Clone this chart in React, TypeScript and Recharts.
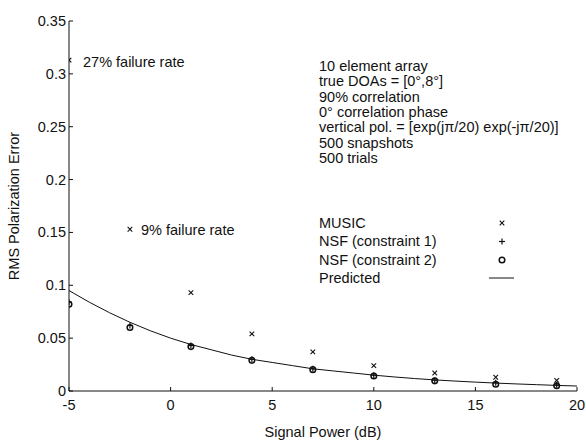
import React from "react";
import { ScatterChart, Scatter, XAxis, YAxis } from "recharts";

const W = 586;
const H = 441;
const FONT = "'Liberation Sans', Arial, Helvetica, sans-serif";

const xTicks = [-5, 0, 5, 10, 15, 20];
const yTicks = [0, 0.05, 0.1, 0.15, 0.2, 0.25, 0.3, 0.35];
const yTickLabels = ["0", "0.05", "0.1", "0.15", "0.2", "0.25", "0.3", "0.35"];

const snr = [-5, -2, 1, 4, 7, 10, 13, 16, 19];
const musicErr = [0.313, 0.153, 0.093, 0.054, 0.037, 0.024, 0.017, 0.013, 0.01];
const nsf1Err = [0.084, 0.062, 0.043, 0.03, 0.021, 0.015, 0.0102, 0.0078, 0.0058];
const nsf2Err = [0.082, 0.06, 0.042, 0.029, 0.0202, 0.0142, 0.0096, 0.0064, 0.005];

const predSnr = [-5, -4, -3, -2, -1, 0, 1, 2, 3, 4, 5, 6, 7, 8, 9, 10, 11, 12, 13, 14, 15, 16, 17, 18, 19, 20];
const predErr = [
  0.095, 0.084, 0.074, 0.065, 0.057, 0.05, 0.044, 0.039, 0.034, 0.03, 0.027, 0.024, 0.021,
  0.019, 0.017, 0.015, 0.0133, 0.0118, 0.0105, 0.0094, 0.0084, 0.0075, 0.0067, 0.006, 0.0053,
  0.0047,
];

const infoLines = [
  "10 element array",
  "true DOAs = [0°,8°]",
  "90% correlation",
  "0° correlation phase",
  "vertical pol. = [exp(jπ/20) exp(-jπ/20)]",
  "500 snapshots",
  "500 trials",
];
const legendNames = ["MUSIC", "NSF (constraint 1)", "NSF (constraint 2)", "Predicted"];

const toPts = (xs: number[], ys: number[]) => xs.map((x, i) => ({ x, y: ys[i] }));
const music = toPts(snr, musicErr);
const nsf1 = toPts(snr, nsf1Err);
const nsf2 = toPts(snr, nsf2Err);
const predicted = toPts(predSnr, predErr);

const Cross = ({ cx, cy, s = 2.3 }: any) => (
  <g stroke="#111" strokeWidth={1.1}>
    <line x1={cx - s} y1={cy - s} x2={cx + s} y2={cy + s} />
    <line x1={cx - s} y1={cy + s} x2={cx + s} y2={cy - s} />
  </g>
);
const Plus = ({ cx, cy, s = 3 }: any) => (
  <g stroke="#111" strokeWidth={1.2}>
    <line x1={cx - s} y1={cy} x2={cx + s} y2={cy} />
    <line x1={cx} y1={cy - s} x2={cx} y2={cy + s} />
  </g>
);
const Ring = ({ cx, cy }: any) => (
  <circle cx={cx} cy={cy} r={2.8} fill="none" stroke="#111" strokeWidth={1.5} />
);

const BottomTick = ({ x, y, payload }: any) => (
  <g>
    <line x1={x} y1={y} x2={x} y2={y - 4} stroke="#111" />
    <text x={x} y={y + 19} textAnchor="middle" fontSize={14.5} fontFamily={FONT} fill="#111">
      {payload.value}
    </text>
  </g>
);
const TopTick = ({ x, y }: any) => <line x1={x} y1={y} x2={x} y2={y + 4} stroke="#111" />;
const LeftTick = ({ x, y, payload, index }: any) => (
  <g>
    <line x1={x} y1={y} x2={x + 4} y2={y} stroke="#111" />
    <text x={x - 3} y={y + 5} textAnchor="end" fontSize={14.5} fontFamily={FONT} fill="#111">
      {yTickLabels[index] ?? payload.value}
    </text>
  </g>
);
const RightTick = ({ x, y }: any) => <line x1={x} y1={y} x2={x - 4} y2={y} stroke="#111" />;

export default function App() {
  const axisLine = { stroke: "#111", strokeWidth: 1 };
  return (
    <div style={{ position: "absolute", left: 0, top: 0, width: W, height: H, background: "#fff" }}>
      <ScatterChart width={W} height={H} margin={{ top: 21, right: 9, bottom: 0, left: 0 }}>
        <XAxis
          xAxisId="b"
          type="number"
          dataKey="x"
          domain={[-5, 20]}
          ticks={xTicks}
          allowDataOverflow
          height={50}
          tickSize={0}
          tickMargin={0}
          tickLine={false}
          axisLine={axisLine}
          tick={<BottomTick />}
        />
        <XAxis
          xAxisId="t"
          orientation="top"
          type="number"
          dataKey="x"
          domain={[-5, 20]}
          ticks={xTicks}
          allowDataOverflow
          height={0}
          tickSize={0}
          tickMargin={0}
          tickLine={false}
          axisLine={axisLine}
          tick={<TopTick />}
        />
        <YAxis
          yAxisId="l"
          type="number"
          dataKey="y"
          domain={[0, 0.35]}
          ticks={yTicks}
          allowDataOverflow
          width={69}
          tickSize={0}
          tickMargin={0}
          tickLine={false}
          axisLine={axisLine}
          tick={<LeftTick />}
        />
        <YAxis
          yAxisId="r"
          orientation="right"
          type="number"
          dataKey="y"
          domain={[0, 0.35]}
          ticks={yTicks}
          allowDataOverflow
          width={0}
          tickSize={0}
          tickMargin={0}
          tickLine={false}
          axisLine={axisLine}
          tick={<RightTick />}
        />
        <Scatter
          xAxisId="b"
          yAxisId="l"
          data={predicted}
          line={{ stroke: "#111", strokeWidth: 1 }}
          lineType="joint"
          shape={() => <g />}
          isAnimationActive={false}
        />
        <Scatter xAxisId="b" yAxisId="l" data={nsf2} shape={<Ring />} isAnimationActive={false} />
        <Scatter xAxisId="b" yAxisId="l" data={nsf1} shape={<Plus />} isAnimationActive={false} />
        <Scatter xAxisId="b" yAxisId="l" data={music} shape={<Cross />} isAnimationActive={false} />
      </ScatterChart>
      <svg
        width={W}
        height={H}
        style={{ position: "absolute", left: 0, top: 0, pointerEvents: "none" }}
        fontFamily={FONT}
        fill="#111"
      >
        <text x={83} y={66.5} fontSize={14.5}>27% failure rate</text>
        <text x={141} y={235} fontSize={14.5}>9% failure rate</text>
        {infoLines.map((t, i) => (
          <text key={t} x={319} y={71 + i * 15.3} fontSize={14.5}>
            {t}
          </text>
        ))}
        {legendNames.map((t, i) => (
          <text key={t} x={319} y={228 + i * 18.3} fontSize={14.5}>
            {t}
          </text>
        ))}
        <Cross cx={502} cy={223} />
        <Plus cx={502} cy={241.5} />
        <Ring cx={502} cy={260} />
        <line x1={489} y1={278} x2={514} y2={278} stroke="#111" />
        <text x={323} y={437} fontSize={14.5} textAnchor="middle">Signal Power (dB)</text>
        <text x={19} y={206} fontSize={14.5} textAnchor="middle" transform="rotate(-90 19 206)">
          RMS Polarization Error
        </text>
      </svg>
    </div>
  );
}
